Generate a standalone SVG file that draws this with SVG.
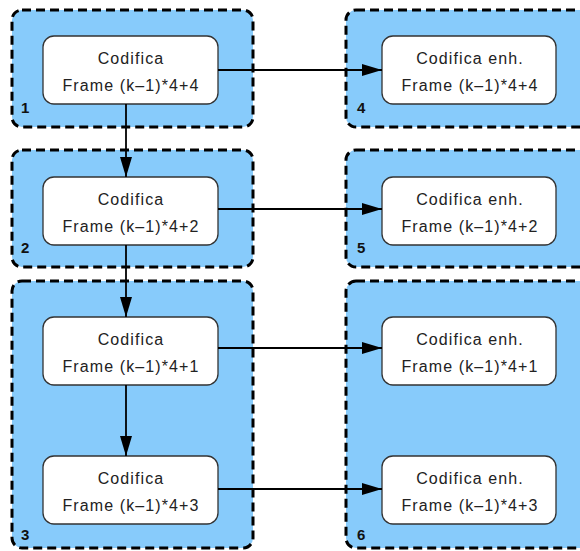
<svg xmlns="http://www.w3.org/2000/svg" width="580" height="551" viewBox="0 0 580 551">
<style>
.grp{fill:#87cbfb;stroke:#000;stroke-width:3;stroke-dasharray:9 5}
.node{fill:#fff;stroke:#333;stroke-width:1.3}
.t{font-family:"Liberation Sans",Arial,sans-serif;font-size:16px;letter-spacing:1.1px;fill:#222;text-anchor:middle}
.lbl{font-family:"Liberation Sans",Arial,sans-serif;font-size:15px;font-weight:bold;fill:#111}
.c{stroke:#000;stroke-width:1.8;fill:none;marker-end:url(#ah)}
</style>
<defs>
<marker id="ah" viewBox="0 0 20 12" refX="20" refY="6" markerWidth="20" markerHeight="12" markerUnits="userSpaceOnUse" orient="auto">
<path d="M0,0 L20,6 L0,12 Z" fill="#000"/>
</marker>
</defs>
<g id="group1"><rect class="grp" x="12" y="10" width="241" height="117" rx="10"/><text class="lbl" x="21" y="113">1</text></g>
<g id="group2"><rect class="grp" x="12" y="150" width="241" height="117" rx="10"/><text class="lbl" x="21" y="253">2</text></g>
<g id="group3"><rect class="grp" x="12" y="281" width="241" height="267" rx="10"/><text class="lbl" x="21" y="540">3</text></g>
<g id="group4"><rect class="grp" x="346" y="10" width="250" height="117" rx="10"/><text class="lbl" x="357" y="113">4</text></g>
<g id="group5"><rect class="grp" x="346" y="150" width="250" height="117" rx="10"/><text class="lbl" x="357" y="253">5</text></g>
<g id="group6"><rect class="grp" x="346" y="281" width="250" height="267" rx="10"/><text class="lbl" x="357" y="540">6</text></g>

<g id="n1"><rect class="node" x="43" y="36" width="175" height="68" rx="11"/><text class="t" x="131" y="64">Codifica</text><text class="t" x="131" y="91">Frame (k–1)*4+4</text></g>
<g id="n2"><rect class="node" x="43" y="177" width="175" height="68" rx="11"/><text class="t" x="131" y="205">Codifica</text><text class="t" x="131" y="232">Frame (k–1)*4+2</text></g>
<g id="n3"><rect class="node" x="43" y="317" width="175" height="68" rx="11"/><text class="t" x="131" y="345">Codifica</text><text class="t" x="131" y="372">Frame (k–1)*4+1</text></g>
<g id="n4"><rect class="node" x="43" y="456" width="175" height="68" rx="11"/><text class="t" x="131" y="484">Codifica</text><text class="t" x="131" y="511">Frame (k–1)*4+3</text></g>
<g id="e1"><rect class="node" x="382" y="36" width="174" height="68" rx="11"/><text class="t" x="470" y="64">Codifica enh.</text><text class="t" x="470" y="91">Frame (k–1)*4+4</text></g>
<g id="e2"><rect class="node" x="382" y="177" width="174" height="68" rx="11"/><text class="t" x="470" y="205">Codifica enh.</text><text class="t" x="470" y="232">Frame (k–1)*4+2</text></g>
<g id="e3"><rect class="node" x="382" y="317" width="174" height="68" rx="11"/><text class="t" x="470" y="345">Codifica enh.</text><text class="t" x="470" y="372">Frame (k–1)*4+1</text></g>
<g id="e4"><rect class="node" x="382" y="456" width="174" height="68" rx="11"/><text class="t" x="470" y="484">Codifica enh.</text><text class="t" x="470" y="511">Frame (k–1)*4+3</text></g>

<g id="connectors">
<line class="c" x1="218" y1="70" x2="382" y2="70"/>
<line class="c" x1="218" y1="209" x2="382" y2="209"/>
<line class="c" x1="218" y1="348" x2="382" y2="348"/>
<line class="c" x1="218" y1="489" x2="382" y2="489"/>
<line class="c" x1="126" y1="104" x2="126" y2="177"/>
<line class="c" x1="126" y1="245" x2="126" y2="317"/>
<line class="c" x1="126" y1="385" x2="126" y2="456"/>
</g>
</svg>
